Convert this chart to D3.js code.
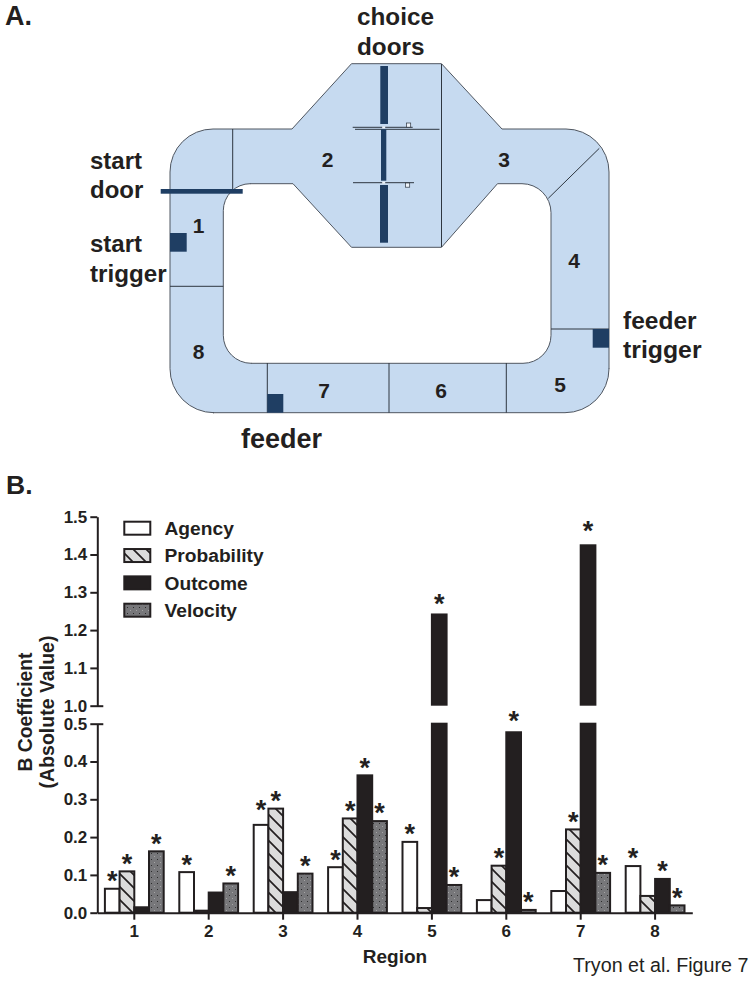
<!DOCTYPE html>
<html>
<head>
<meta charset="utf-8">
<script src="https://cdn.jsdelivr.net/npm/d3@7/dist/d3.min.js"></script>
<style>
  html, body { margin: 0; padding: 0; background: #fff; }
  svg { display: block; }
  text { font-family: "Liberation Sans", Arial, sans-serif; fill: #231f20; }
  .b { font-weight: bold; }
</style>
</head>
<body>
<svg id="svg" width="754" height="981"></svg>
<script>
// chart values
var regions = [1, 2, 3, 4, 5, 6, 7, 8];
var seriesNames = ["Agency", "Probability", "Outcome", "Velocity"];
var agency = [0.066, 0.110, 0.235, 0.123, 0.190, 0.036, 0.060, 0.126];
var probability = [0.112, 0.008, 0.278, 0.252, 0.015, 0.127, 0.223, 0.047];
var outcome = [0.017, 0.056, 0.057, 0.366, 1.244, 0.480, 1.427, 0.092];
var velocity = [0.165, 0.080, 0.106, 0.245, 0.076, 0.010, 0.108, 0.022];
var values = [agency, probability, outcome, velocity];

// 1 = bar has a star
var agencySig = [1, 1, 1, 1, 1, 0, 0, 1];
var probabilitySig = [1, 0, 1, 1, 0, 1, 1, 0];
var outcomeSig = [0, 0, 0, 1, 1, 1, 1, 1];
var velocitySig = [1, 1, 1, 1, 1, 1, 1, 1];
var sigs = [agencySig, probabilitySig, outcomeSig, velocitySig];

var lowTicks = [0, 0.1, 0.2, 0.3, 0.4, 0.5];
var highTicks = [1.0, 1.1, 1.2, 1.3, 1.4, 1.5];

var INK = "#231f20", TRACK = "#c6daf0", EDGE = "#4f5660", DARK = "#1f3e63";
var svg = d3.select("#svg");
var defs = svg.append("defs");

// fills for the two textured series
var hatch = defs.append("pattern").attr("id", "hatch").attr("patternUnits", "userSpaceOnUse")
  .attr("width", 13).attr("height", 13);
hatch.append("rect").attr("width", 13).attr("height", 13).attr("fill", "#dcdcdc");
hatch.append("path").attr("d", "M-1,-1L14,14M-1,12L1,14M12,-1L14,1")
  .attr("stroke", INK).attr("stroke-width", 1.7);

var dots = defs.append("pattern").attr("id", "dots").attr("patternUnits", "userSpaceOnUse")
  .attr("width", 6).attr("height", 6);
dots.append("rect").attr("width", 6).attr("height", 6).attr("fill", "#77777a");
dots.append("rect").attr("x", 1).attr("y", 1).attr("width", 1).attr("height", 1).attr("fill", "#2b2b2b");
dots.append("rect").attr("x", 4).attr("y", 4).attr("width", 1).attr("height", 1).attr("fill", "#a5a5a5");

var seriesFill = ["#fff", "url(#hatch)", INK, "url(#dots)"];

function label(parent, txt, x, y, size, bold, anchor){
  return parent.append("text").attr("x", x).attr("y", y)
    .attr("font-size", size).attr("font-weight", bold ? "bold" : "normal")
    .attr("text-anchor", anchor || "start").text(txt);
}

/* ---------- A. maze ---------- */
var maze = svg.append("g");

var p = d3.path();
p.moveTo(213, 129);
p.lineTo(292, 129); p.lineTo(351.5, 63.7); p.lineTo(441.5, 63.7); p.lineTo(502, 129);
p.lineTo(566, 129); p.arcTo(609, 129, 609, 172, 43);
p.lineTo(609, 369); p.arcTo(609, 412.7, 565, 412.7, 44);
p.lineTo(213, 412.7); p.arcTo(170, 412.7, 170, 369, 44);
p.lineTo(170, 172); p.arcTo(170, 129, 213, 129, 43);
p.closePath();
// inner island
p.moveTo(250, 183.7);
p.lineTo(293, 183.7); p.lineTo(351.5, 247.3); p.lineTo(441.5, 247.3); p.lineTo(497.5, 183.7);
p.lineTo(522, 183.7); p.arcTo(551, 183.7, 551, 213, 29);
p.lineTo(551, 335); p.arcTo(551, 363.3, 523, 363.3, 28);
p.lineTo(251, 363.3); p.arcTo(223.3, 363.3, 223.3, 336, 28);
p.lineTo(223.3, 211); p.arcTo(223.3, 183.7, 250, 183.7, 27);
p.closePath();
maze.append("path").attr("d", p.toString()).attr("fill", TRACK).attr("fill-rule", "evenodd")
  .attr("stroke", EDGE).attr("stroke-width", 1);

var dividers = [
  [232.7, 129, 232.7, 190], [441.5, 64, 441.5, 247], [548.3, 198.3, 599.3, 148.3],
  [551, 329, 609, 329], [506.3, 363, 506.3, 412.7], [389, 363, 389, 412.7],
  [267.3, 363, 267.3, 412.7], [170, 286.3, 223.3, 286.3],
  [355, 129.3, 439.5, 129.3]
];
maze.selectAll("line.div").data(dividers).enter().append("line").attr("class", "div")
  .attr("x1", function(d){ return d[0]; }).attr("y1", function(d){ return d[1]; })
  .attr("x2", function(d){ return d[2]; }).attr("y2", function(d){ return d[3]; })
  .attr("stroke", "#2e3640").attr("stroke-width", 1);

var darkRects = [
  [160.7, 189, 82, 4.7], [170, 233, 16.7, 18.7], [267.3, 394, 16, 18.7], [592.7, 329, 16.3, 18.7],
  [380.3, 66, 7.7, 58], [381, 129.3, 5.3, 51.4], [380, 185, 8, 57.7]
];
maze.selectAll("rect.dark").data(darkRects).enter().append("rect").attr("class", "dark")
  .attr("x", function(d){ return d[0]; }).attr("y", function(d){ return d[1]; })
  .attr("width", function(d){ return d[2]; }).attr("height", function(d){ return d[3]; })
  .attr("fill", DARK);

// door hinges
var hinges = [[352.7, 127.3, 412.7], [353, 182.7, 414]];
maze.selectAll("line.hinge").data(hinges).enter().append("line").attr("class", "hinge")
  .attr("x1", function(d){ return d[0]; }).attr("y1", function(d){ return d[1]; })
  .attr("x2", function(d){ return d[2]; }).attr("y2", function(d){ return d[1]; })
  .attr("stroke", "#2e3640").attr("stroke-width", 1);
var latches = [[406.5, 123, 4.2, 4.2], [405.5, 183, 4.2, 4.2]];
maze.selectAll("rect.latch").data(latches).enter().append("rect").attr("class", "latch")
  .attr("x", function(d){ return d[0]; }).attr("y", function(d){ return d[1]; })
  .attr("width", function(d){ return d[2]; }).attr("height", function(d){ return d[3]; })
  .attr("fill", "#eef4fb").attr("stroke", "#2e3640").attr("stroke-width", 0.7);
maze.selectAll("rect.gap").data([127.3, 182.7]).enter().append("rect").attr("class", "gap")
  .attr("x", 382.2).attr("y", function(d){ return d - 1; }).attr("width", 3).attr("height", 2).attr("fill", "#eef4fb");

var regionSpots = [[198.5, 233], [327.5, 167], [504, 167], [574, 268], [560, 392], [441, 398], [324, 398], [198.5, 359]];
maze.selectAll("text.num").data(regionSpots).enter().append("text").attr("class", "num b")
  .attr("x", function(d){ return d[0]; }).attr("y", function(d){ return d[1]; })
  .attr("font-size", 21).attr("text-anchor", "middle")
  .text(function(d, i){ return i + 1; });

label(svg, "A.", 5, 25, 27, true);
label(svg, "B.", 6, 494, 26.5, true);
label(svg, "choice", 357, 25, 24.3, true);
label(svg, "doors", 357, 55, 24.3, true);
label(svg, "start", 90, 169, 24, true);
label(svg, "door", 90, 198, 24, true);
label(svg, "start", 90, 252, 24, true);
label(svg, "trigger", 90, 282, 24.2, true);
label(svg, "feeder", 241, 448, 27, true);
label(svg, "feeder", 623, 329, 24.5, true);
label(svg, "trigger", 623, 358, 24.8, true);

/* ---------- B. bars ---------- */
var x0 = d3.scaleBand().domain(regions).range([97.1, 692.3]);
var x1 = d3.scaleBand().domain(seriesNames).range([-29.4, 29.4]);
var yLow = d3.scaleLinear().domain([0, 0.5]).range([912.7, 723.7]);
var yHigh = d3.scaleLinear().domain([1, 1.5]).range([705.7, 516.7]);
var BW = 2;

var chart = svg.append("g");

seriesNames.forEach(function(name, s){
  var g = chart.append("g");
  var rows = regions.map(function(r, i){ return {region: r, value: values[s][i]}; });

  function barX(d){ return x0(d.region) + x0.bandwidth() / 2 + x1(name); }

  g.selectAll("rect.low").data(rows).enter().append("rect").attr("class", "low")
    .attr("x", barX).attr("width", x1.bandwidth())
    .attr("y", function(d){ return yLow(Math.min(d.value, 0.5)) + (d.value > 0.5 ? 0 : BW / 2); })
    .attr("height", function(d){ return Math.max(0, yLow(0) - yLow(Math.min(d.value, 0.5)) - (d.value > 0.5 ? 0 : BW / 2)); })
    .attr("fill", seriesFill[s]).attr("stroke", INK).attr("stroke-width", BW);

  g.selectAll("rect.high").data(rows.filter(function(d){ return d.value > 1; })).enter().append("rect").attr("class", "high")
    .attr("x", barX).attr("width", x1.bandwidth())
    .attr("y", function(d){ return yHigh(d.value) + BW / 2; })
    .attr("height", function(d){ return yHigh(1) - yHigh(d.value) - BW; })
    .attr("fill", seriesFill[s]).attr("stroke", INK).attr("stroke-width", BW);
});

// a few stars sit higher than the usual gap above their bar
var starLift = {"Agency-3": 7, "Outcome-5": 3, "Outcome-6": 4, "Outcome-7": 7};
var STAR = 27;
seriesNames.forEach(function(name, s){
  var rows = [];
  regions.forEach(function(r, i){
    if (sigs[s][i]) rows.push({region: r, value: values[s][i], name: name});
  });
  chart.selectAll("text.star" + s).data(rows).enter().append("text").attr("class", "star" + s + " b")
    .attr("font-size", STAR).attr("text-anchor", "middle")
    .attr("x", function(d){ return x0(d.region) + x0.bandwidth() / 2 + x1(name) + x1.bandwidth() / 2; })
    .attr("y", function(d){
      var top = d.value > 1 ? yHigh(d.value) : yLow(d.value);
      return top - 13 - (starLift[d.name + "-" + d.region] || 0) + STAR * 0.57;
    })
    .text("*");
});

function styleAxis(g){
  g.selectAll(".domain").attr("stroke", INK).attr("stroke-width", BW);
  g.selectAll(".tick line").attr("stroke", INK).attr("stroke-width", BW);
  g.selectAll(".tick text").attr("class", "b").attr("font-family", null)
    .attr("font-size", 17).style("fill", INK);
}

var axisLow = svg.append("g").attr("transform", "translate(97.3,0)")
  .call(d3.axisLeft(yLow).tickValues(lowTicks).tickFormat(d3.format(".1f")).tickSize(7).tickSizeOuter(0));
var axisHigh = svg.append("g").attr("transform", "translate(97.3,0)")
  .call(d3.axisLeft(yHigh).tickValues(highTicks).tickFormat(d3.format(".1f")).tickSize(7).tickSizeOuter(0));
styleAxis(axisLow);
styleAxis(axisHigh);
axisLow.attr("font-family", null);
axisHigh.attr("font-family", null);

// the break ticks poke through the spine
axisLow.selectAll(".tick").filter(function(d){ return d === 0.5; }).select("line").attr("x2", -7).attr("x1", 6);
axisHigh.selectAll(".tick").filter(function(d){ return d === 1; }).select("line").attr("x2", -7).attr("x1", 6);

var axisX = svg.append("g").attr("transform", "translate(0,912.7)")
  .call(d3.axisBottom(x0).tickSize(7).tickSizeOuter(0));
styleAxis(axisX);
axisX.attr("font-family", null);
axisX.selectAll(".tick text").attr("dy", null).attr("y", 24);

label(svg, "Region", 395, 963, 19, true, "middle");
label(svg, "Tryon et al. Figure 7", 573, 971.5, 19.7, false);

svg.append("text").attr("class", "b").attr("transform", "translate(32,712) rotate(-90)")
  .attr("text-anchor", "middle").attr("font-size", 19.3).text("B Coefficient");
svg.append("text").attr("class", "b").attr("transform", "translate(54,712) rotate(-90)")
  .attr("text-anchor", "middle").attr("font-size", 19.5).text("(Absolute Value)");

// legend
var legendY = d3.scalePoint().domain(seriesNames).range([528.2, 610.2]);
var legend = svg.append("g");
legend.selectAll("rect").data(seriesNames).enter().append("rect")
  .attr("x", 124.3).attr("width", 26)
  .attr("y", function(d){ return legendY(d) - 6.5; }).attr("height", 13)
  .attr("fill", function(d, i){ return seriesFill[i]; })
  .attr("stroke", INK).attr("stroke-width", BW);
legend.selectAll("text").data(seriesNames).enter().append("text").attr("class", "b")
  .attr("x", 164.5).attr("y", function(d){ return legendY(d) + 6.7; })
  .attr("font-size", 19.2).text(function(d){ return d; });
</script>
</body>
</html>
